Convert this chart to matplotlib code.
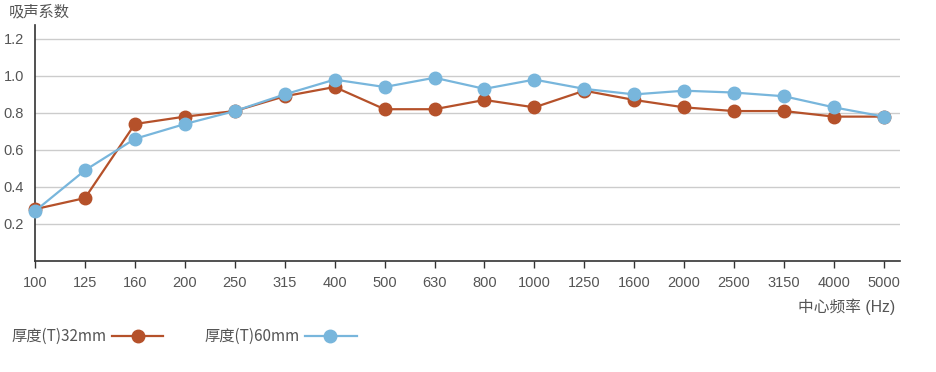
import matplotlib.pyplot as plt

plt.rcParams['font.family'] = ['Liberation Sans', 'Noto Sans CJK SC', 'DejaVu Sans']

freqs = ['100', '125', '160', '200', '250', '315', '400', '500', '630', '800',
         '1000', '1250', '1600', '2000', '2500', '3150', '4000', '5000']
t32 = [0.28, 0.34, 0.74, 0.78, 0.81, 0.89, 0.94, 0.82, 0.82, 0.87,
       0.83, 0.92, 0.87, 0.83, 0.81, 0.81, 0.78, 0.78]
t60 = [0.27, 0.49, 0.66, 0.74, 0.81, 0.90, 0.98, 0.94, 0.99, 0.93,
       0.98, 0.93, 0.90, 0.92, 0.91, 0.89, 0.83, 0.78]
yticks = [0.2, 0.4, 0.6, 0.8, 1.0, 1.2]

red = '#b5512a'
blue = '#78b6dc'
txt = '#555555'
cjk = ['Noto Sans CJK SC', 'DejaVu Sans']

fig = plt.figure(figsize=(9.37, 3.72), dpi=100)
ax = fig.add_axes([0.0374, 0.2984, 0.923, 0.6344])

x = list(range(len(freqs)))
ax.plot(x, t32, color=red, lw=1.6, marker='o', ms=9, zorder=3, clip_on=False)
ax.plot(x, t60, color=blue, lw=1.6, marker='o', ms=9, zorder=4, clip_on=False)

ax.set_xlim(0, 17.32)
ax.set_ylim(0, 1.275)
ax.set_xticks(x)
ax.set_xticklabels(freqs)
ax.set_yticks(yticks)
ax.set_yticklabels(['%.1f' % v for v in yticks])
ax.grid(axis='y', color='#cccccc', lw=1)
ax.set_axisbelow(True)

for s in ['top', 'right']:
    ax.spines[s].set_visible(False)
for s in ['left', 'bottom']:
    ax.spines[s].set_color('#333333')
    ax.spines[s].set_linewidth(1.2)

ax.tick_params(axis='x', length=5, width=1, color='#333333', pad=6,
               labelsize=10.5, labelcolor=txt)
ax.tick_params(axis='y', length=0, pad=8, labelsize=10.5, labelcolor=txt)

fig.text(0.009, 0.967, '吸声系数', fontsize=11, color=txt, va='center')
fig.text(0.955, 0.175, '中心频率 (Hz)', fontsize=11.3, color=txt, ha='right', va='center')

# legend drawn by hand below the axes
fig.text(0.012, 0.097, '厚度(T)32mm', fontsize=11, color=txt, va='center', family=cjk)
fig.add_artist(plt.Line2D([0.1195, 0.174], [0.097, 0.097], color=red, lw=1.6,
                          transform=fig.transFigure))
fig.add_artist(plt.Line2D([0.1473], [0.097], color=red, marker='o', ms=9,
                          transform=fig.transFigure))
fig.text(0.218, 0.097, '厚度(T)60mm', fontsize=11, color=txt, va='center', family=cjk)
fig.add_artist(plt.Line2D([0.3255, 0.381], [0.097, 0.097], color=blue, lw=1.6,
                          transform=fig.transFigure))
fig.add_artist(plt.Line2D([0.352], [0.097], color=blue, marker='o', ms=9,
                          transform=fig.transFigure))

fig.savefig('out.png', dpi=100)
